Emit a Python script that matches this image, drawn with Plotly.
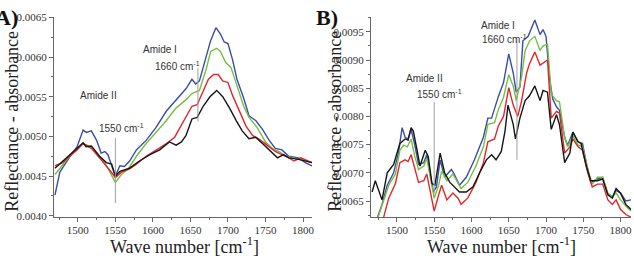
import plotly.graph_objects as go

# ---------------- Panel A data ----------------
a_blue_x = [1469.5,1476,1489,1499,1507,1511.5,1518,1525,1531,1536,1540,1545,1550,1556,1562,1569,1578,1591,1604,1618,1631,1644,1652,1657,1662,1671,1677,1684,1690,1695,1700,1706,1712,1721,1728,1737,1746,1755,1763,1772,1781,1794,1803,1812]
a_blue_y = [0.00426,0.00455,0.00474,0.00487,0.00508,0.00505,0.00507,0.00495,0.00479,0.00481,0.00477,0.00463,0.00450,0.00463,0.00462,0.00469,0.00483,0.00495,0.00511,0.00532,0.00546,0.00560,0.00572,0.00566,0.00570,0.00601,0.00621,0.00637,0.00629,0.00619,0.00617,0.00597,0.00572,0.00548,0.00526,0.00520,0.00509,0.00495,0.00485,0.00483,0.00475,0.00473,0.00467,0.00463]

a_green_x = [1469.5,1476,1489,1499,1507,1518,1527,1536,1545,1550,1558,1567,1578,1591,1604,1618,1631,1644,1652,1662,1671,1677,1685,1690,1697,1704,1712,1721,1728,1739,1750,1759,1768,1777,1786,1797,1812]
a_green_y = [0.00452,0.00460,0.00475,0.00484,0.00491,0.00487,0.00475,0.00467,0.00452,0.00442,0.00452,0.00459,0.00475,0.00491,0.00505,0.00520,0.00536,0.00546,0.00554,0.00558,0.00585,0.00607,0.00611,0.00607,0.00593,0.00587,0.00564,0.00538,0.00524,0.00511,0.00493,0.00485,0.00481,0.00475,0.00473,0.00471,0.00467]

a_red_x = [1469.5,1480,1489,1499,1507,1518,1529,1538,1547,1550,1558,1569,1578,1591,1604,1618,1629,1635,1644,1652,1659,1667,1674,1681,1687,1693,1700,1706,1715,1724,1733,1741,1752,1763,1777,1788,1797,1812]
a_red_y = [0.00463,0.00467,0.00475,0.00483,0.00491,0.00485,0.00473,0.00463,0.00452,0.00448,0.00455,0.00459,0.00465,0.00475,0.00483,0.00491,0.00499,0.00509,0.00524,0.00538,0.00540,0.00558,0.00572,0.00578,0.00578,0.00570,0.00568,0.00552,0.00532,0.00513,0.00501,0.00497,0.00489,0.00481,0.00475,0.00469,0.00473,0.00467]

a_black_x = [1469.5,1480,1489,1499,1507,1511,1518,1529,1538,1545,1550,1556,1569,1582,1596,1609,1622,1631,1638,1644,1652,1659,1667,1676,1685,1693,1702,1711,1719,1728,1737,1746,1757,1766,1774,1781,1794,1812]
a_black_y = [0.00460,0.00469,0.00477,0.00486,0.00492,0.00487,0.00488,0.00475,0.00467,0.00465,0.00450,0.00456,0.00460,0.00469,0.00477,0.00483,0.00493,0.00489,0.00493,0.00501,0.00522,0.00524,0.00538,0.00550,0.00558,0.00550,0.00536,0.00520,0.00507,0.00497,0.00499,0.00491,0.00481,0.00473,0.00477,0.00473,0.00471,0.00467]

# ---------------- Panel B data ----------------
b_black_x = [1466.7,1471,1480,1487,1495.6,1504,1511,1515,1519,1522,1527,1531,1538,1542,1547,1551,1558,1564,1571,1575,1584,1593,1602,1611,1620,1627,1633,1640,1645,1649,1656,1659,1665,1672,1678,1685,1692,1696,1702,1707,1714,1718,1725,1732,1736,1743,1747,1754,1760,1769,1776,1783,1789,1794,1800,1807,1814]
b_black_y = [0.00666,0.00686,0.00652,0.00700,0.00715,0.00752,0.00760,0.00758,0.00780,0.00774,0.00740,0.00712,0.00740,0.00729,0.00681,0.00678,0.00735,0.00700,0.00683,0.00678,0.00666,0.00666,0.00675,0.00700,0.00723,0.00732,0.00723,0.00738,0.00774,0.00820,0.00786,0.00760,0.00797,0.00828,0.00837,0.00854,0.00828,0.00846,0.00843,0.00777,0.00803,0.00786,0.00718,0.00735,0.00772,0.00755,0.00752,0.00712,0.00686,0.00686,0.00689,0.00661,0.00655,0.00672,0.00664,0.00644,0.00635]

b_blue_x = [1471,1480,1487,1495.6,1502,1507,1511,1515,1519,1524,1529,1536,1540,1544,1549,1553,1558,1564,1573,1576,1584,1593,1604,1616,1622,1627,1636,1643,1650,1656,1660,1665,1669,1676,1680,1685,1692,1696,1700,1705,1709,1714,1718,1725,1729,1736,1743,1749,1754,1760,1769,1776,1783,1789,1794,1800,1807,1814]
b_blue_y = [0.00610,0.00644,0.00678,0.00700,0.00735,0.00780,0.00763,0.00760,0.00777,0.00749,0.00715,0.00718,0.00732,0.00700,0.00666,0.00675,0.00723,0.00692,0.00706,0.00700,0.00678,0.00692,0.00723,0.00763,0.00797,0.00797,0.00835,0.00860,0.00911,0.00877,0.00843,0.00852,0.00934,0.00942,0.00956,0.00971,0.00945,0.00954,0.00942,0.00865,0.00831,0.00817,0.00811,0.00763,0.00749,0.00772,0.00755,0.00752,0.00718,0.00683,0.00689,0.00692,0.00661,0.00658,0.00669,0.00664,0.00650,0.00652]

b_green_x = [1472,1482,1489,1498,1504,1509,1514,1519,1524,1529,1536,1540,1545,1550,1556,1560,1567,1575,1586,1595,1606,1616,1622,1631,1636,1643,1650,1656,1660,1667,1672,1678,1685,1692,1696,1702,1707,1714,1718,1725,1729,1736,1743,1749,1756,1762,1769,1776,1783,1789,1794,1800,1807,1814]
b_green_y = [0.00610,0.00649,0.00678,0.00698,0.00740,0.00749,0.00746,0.00760,0.00729,0.00706,0.00712,0.00726,0.00689,0.00655,0.00678,0.00703,0.00686,0.00698,0.00672,0.00683,0.00712,0.00746,0.00786,0.00789,0.00812,0.00834,0.00874,0.00854,0.00828,0.00868,0.00917,0.00934,0.00942,0.00917,0.00925,0.00928,0.00840,0.00828,0.00826,0.00763,0.00746,0.00766,0.00749,0.00746,0.00706,0.00680,0.00692,0.00692,0.00664,0.00658,0.00664,0.00652,0.00641,0.00632]

b_red_x = [1478,1482,1489,1498,1504,1511,1515,1519,1524,1529,1536,1540,1544,1550,1556,1560,1567,1575,1582,1586,1595,1606,1616,1622,1631,1636,1643,1650,1656,1662,1667,1674,1678,1685,1692,1696,1702,1707,1714,1718,1725,1732,1736,1743,1749,1756,1762,1769,1776,1783,1789,1794,1800,1807,1814]
b_red_y = [0.00600,0.00621,0.00655,0.00681,0.00718,0.00723,0.00720,0.00732,0.00706,0.00683,0.00686,0.00698,0.00672,0.00632,0.00661,0.00678,0.00652,0.00664,0.00655,0.00644,0.00655,0.00683,0.00718,0.00755,0.00760,0.00783,0.00800,0.00851,0.00820,0.00800,0.00826,0.00877,0.00894,0.00914,0.00891,0.00894,0.00900,0.00797,0.00809,0.00806,0.00735,0.00746,0.00760,0.00746,0.00740,0.00700,0.00675,0.00680,0.00680,0.00652,0.00644,0.00652,0.00635,0.00626,0.00621]

x_ticks = [1500, 1550, 1600, 1650, 1700, 1750, 1800]
a_y_ticks = [0.0040, 0.0045, 0.0050, 0.0055, 0.0060, 0.0065]
b_y_ticks = [0.0065, 0.0070, 0.0075, 0.0080, 0.0085, 0.0090, 0.0095]

colors = {"blue": "#3a4ea6", "green": "#76bf45", "red": "#e3262c", "black": "#151515"}

fig = go.Figure()
for name, xs, ys in [("blue", a_blue_x, a_blue_y), ("green", a_green_x, a_green_y),
                     ("red", a_red_x, a_red_y), ("black", a_black_x, a_black_y)]:
    fig.add_trace(go.Scatter(x=xs, y=ys, mode="lines", line=dict(color=colors[name], width=1.4),
                             xaxis="x", yaxis="y", showlegend=False, hoverinfo="skip"))
for name, xs, ys in [("blue", b_blue_x, b_blue_y), ("green", b_green_x, b_green_y),
                     ("red", b_red_x, b_red_y), ("black", b_black_x, b_black_y)]:
    fig.add_trace(go.Scatter(x=xs, y=ys, mode="lines", line=dict(color=colors[name], width=1.4),
                             xaxis="x2", yaxis="y2", showlegend=False, hoverinfo="skip"))

W, H = 634, 259
ydom = [(H - 220) / H, (H - 12) / H]
SERIF = "Liberation Serif"
tickfont = dict(family=SERIF, size=11, color="#333")
axcol = "#666"

def xax(domain, rng, anchor):
    return dict(domain=domain, range=rng, anchor=anchor, showline=True, linecolor=axcol, linewidth=1,
                ticks="outside", ticklen=4, tickcolor=axcol, tickvals=x_ticks, tickfont=tickfont,
                ticklabelstandoff=-2, showgrid=False, zeroline=False,
                minor=dict(dtick=25, tick0=1500, ticks="outside", ticklen=2, tickcolor=axcol, showgrid=False))

def yax(domain, rng, anchor, vals):
    return dict(domain=domain, range=rng, anchor=anchor, showline=True, linecolor=axcol, linewidth=1,
                ticks="outside", ticklen=4, tickcolor=axcol, tickvals=vals, tickformat=".4f",
                tickfont=tickfont, showgrid=False, zeroline=False,
                minor=dict(dtick=0.00025, tick0=0.004, ticks="outside", ticklen=2, tickcolor=axcol, showgrid=False))

fig.update_layout(
    width=W, height=H, margin=dict(l=0, r=0, t=0, b=0),
    paper_bgcolor="white", plot_bgcolor="white", showlegend=False,
    xaxis=xax([54 / W, 313 / W], [1468, 1812], "y"),
    yaxis=yax(ydom, [0.00398, 0.00651], "x", a_y_ticks),
    xaxis2=xax([372 / W, 633 / W], [1465, 1814], "y2"),
    yaxis2=yax(ydom, [0.00621, 0.00977], "x2", b_y_ticks),
)

# marker lines
line_style = dict(color="#a0a0a0", width=1)
fig.add_shape(type="line", xref="x", yref="y", x0=1550, x1=1550, y0=0.00416, y1=0.00498, line=line_style)
fig.add_shape(type="line", xref="x", yref="y", x0=1660, x1=1660, y0=0.00519, y1=0.00586, line=line_style)
fig.add_shape(type="line", xref="x2", yref="y2", x0=1550, x1=1550, y0=0.00663, y1=0.00826, line=line_style)
fig.add_shape(type="line", xref="x2", yref="y2", x0=1661, x1=1661, y0=0.00723, y1=0.00937, line=line_style)

sans = dict(family="Liberation Sans", size=10, color="#333")
notes = [
    ("x", "y", 1610, 0.00610, "Amide I"),
    ("x", "y", 1633, 0.00589, "1660 cm<sup>-1</sup>"),
    ("x", "y", 1527, 0.00551, "Amide II"),
    ("x", "y", 1558, 0.00511, "1550 cm<sup>-1</sup>"),
    ("x2", "y2", 1636, 0.00962, "Amide I"),
    ("x2", "y2", 1644, 0.00938, "1660 cm<sup>-1</sup>"),
    ("x2", "y2", 1537, 0.00867, "Amide II"),
    ("x2", "y2", 1557, 0.00839, "1550 cm<sup>-1</sup>"),
]
for xr, yr, xv, yv, t in notes:
    fig.add_annotation(xref=xr, yref=yr, x=xv, y=yv, text=t, showarrow=False, font=sans,
                       xanchor="center", yanchor="middle")

serif_title = dict(family=SERIF, size=18, color="#222")
for cx in [12, 336]:
    fig.add_annotation(xref="paper", yref="paper", x=cx / W, y=1 - 120 / H, text="Reflectance - absorbance",
                       textangle=-90, showarrow=False, font=serif_title, xanchor="center", yanchor="middle")
for cx in [185, 503]:
    fig.add_annotation(xref="paper", yref="paper", x=cx / W, y=1 - 249 / H, text="Wave number [cm<sup>-1</sup>]",
                       showarrow=False, font=serif_title, xanchor="center", yanchor="middle")

lab = dict(family=SERIF, size=22, color="#111")
fig.add_annotation(xref="paper", yref="paper", x=-7 / W, y=1 - 13 / H, text="<b>A)</b>", showarrow=False,
                   font=lab, xanchor="left", yanchor="middle")
fig.add_annotation(xref="paper", yref="paper", x=315 / W, y=1 - 13 / H, text="<b>B)</b>", showarrow=False,
                   font=lab, xanchor="left", yanchor="middle")

fig.write_html("out.html")
